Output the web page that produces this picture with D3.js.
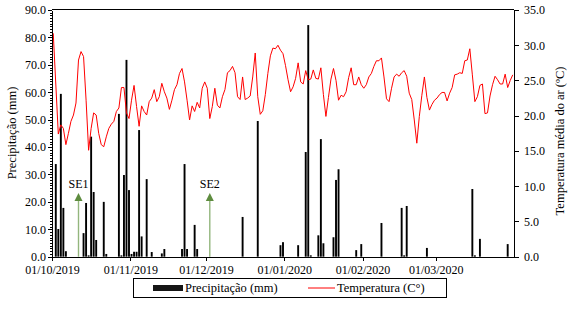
<!DOCTYPE html>
<html><head><meta charset="utf-8">
<script src="https://cdn.jsdelivr.net/npm/d3@7"></script>
<style>
body{margin:0;background:#fff}
svg{display:block}
text{font-family:"Liberation Serif","Times New Roman",serif;fill:#000}
</style>
</head><body>
<svg id="chart" width="569" height="309"></svg>
<script>
// ---- data ----
const startDate = "2019-10-01";
const endDate = "2020-04-01";
const temperature = [
31.7,24.5,17.4,18.7,18.2,15.9,17.5,19.2,20.1,21.8,
27.9,29.1,28.4,22.2,15.1,18.2,20.4,20.1,17.5,15.9,
15.6,17.0,18.2,18.8,19.2,20.6,21.1,24.0,24.0,20.4,
19.6,22.2,24.3,21.3,18.5,21.4,20.6,20.1,22.0,22.5,
23.7,22.0,22.7,24.6,23.4,22.5,20.9,22.2,23.7,24.4,
26.0,26.7,24.8,22.2,19.4,21.4,20.6,21.9,21.1,23.9,
24.8,23.9,19.6,21.3,23.9,21.5,21.1,22.7,23.7,26.1,
26.4,27.0,26.1,22.7,22.3,25.5,22.3,22.5,22.8,25.5,
28.9,22.7,20.2,20.7,23.0,26.0,28.5,29.6,29.5,30.0,
29.3,28.8,27.1,25.1,23.4,24.1,25.3,27.5,24.8,24.5,
26.4,25.1,25.2,26.5,25.3,25.2,26.8,23.0,19.9,22.6,
25.2,26.7,25.0,22.2,22.9,22.7,23.4,25.4,26.8,24.4,
24.4,25.5,24.4,23.9,24.4,25.5,26.0,27.0,27.8,27.8,
28.2,25.5,22.4,22.0,23.9,25.5,25.9,25.6,26.1,26.4,
25.6,23.2,22.3,19.4,16.1,19.9,22.9,25.5,22.6,20.8,
21.6,22.2,22.5,23.0,23.3,23.3,22.1,23.2,24.0,25.8,
25.9,26.1,26.0,27.8,27.9,29.5,25.8,22.0,22.7,24.3,
24.5,20.3,20.4,22.8,24.4,25.6,25.1,24.5,24.5,25.9,
24.0,25.0,25.8
];
const precipDates = [
"2019-10-02","2019-10-03","2019-10-04","2019-10-05","2019-10-06",
"2019-10-13","2019-10-14","2019-10-15","2019-10-16","2019-10-17","2019-10-18",
"2019-10-21","2019-10-22","2019-10-27","2019-10-28","2019-10-29","2019-10-30","2019-10-31",
"2019-11-01","2019-11-02","2019-11-03","2019-11-04","2019-11-05","2019-11-07","2019-11-09",
"2019-11-13","2019-11-14","2019-11-21","2019-11-22","2019-11-23","2019-11-26","2019-11-27",
"2019-12-15","2019-12-21","2019-12-30","2019-12-31",
"2020-01-06","2020-01-09","2020-01-10","2020-01-11","2020-01-14","2020-01-15","2020-01-16",
"2020-01-20","2020-01-21","2020-01-22","2020-01-29","2020-01-31",
"2020-02-08","2020-02-16","2020-02-17","2020-02-18","2020-02-26",
"2020-03-15","2020-03-16","2020-03-18","2020-03-29"
];
const precipValues = [
33.8,10.1,59.4,17.8,2.0,
8.6,19.6,0.5,43.8,23.6,6.1,
20.0,1.0,52.1,0.5,29.8,71.8,24.3,
1.0,1.8,1.8,46.2,7.4,28.3,1.7,
1.2,2.8,2.8,33.8,2.8,11.6,2.8,
14.5,49.5,4.2,5.3,
4.2,38.2,84.5,0.5,7.8,42.9,4.9,
7.1,28.0,31.9,2.4,4.6,
12.3,17.8,0.5,18.5,3.2,
24.7,0.5,6.5,4.6
];
const monthTicks = ["2019-10-01","2019-11-01","2019-12-01","2020-01-01","2020-02-01","2020-03-01"];
const precipTicks = [0,10,20,30,40,50,60,70,80,90];
const tempTicks = [0,5,10,15,20,25,30,35];
const sowingDates = ["2019-10-11","2019-12-02"];
const sowingLabels = ["SE1","SE2"];
const sowingArrowTop = 23.2; // mm (precipitation scale)
const legendLabels = ["Precipitação (mm)","Temperatura (C°)"];

// ---- chart ----
const parse = d3.utcParse("%Y-%m-%d");
const svg = d3.select("#chart");
const L = 52, R = 514, T = 10, B = 256.7;

const x = d3.scaleUtc().domain([parse(startDate), parse(endDate)]).range([L, R]);
const yP = d3.scaleLinear().domain([0, 90]).range([B, T]);
const yT = d3.scaleLinear().domain([0, 35]).range([B, T]);
const mid = d => d3.utcHour.offset(d, 12);
const dayW = x(parse("2019-10-02")) - x(parse("2019-10-01"));
const barW = 1.9;

// top border
svg.append("line").attr("x1", L).attr("x2", R).attr("y1", T - 0.5).attr("y2", T - 0.5)
  .attr("stroke", "#000").attr("stroke-width", 1);

// bars
svg.append("g").selectAll("rect").data(precipDates.map((d, i) => ({d: parse(d), v: precipValues[i]})))
  .join("rect")
  .attr("x", d => x(mid(d.d)) - barW / 2)
  .attr("width", barW)
  .attr("y", d => yP(d.v))
  .attr("height", d => B - yP(d.v))
  .attr("fill", "#000");

// temperature line
const tData = temperature.map((v, i) => ({d: mid(d3.utcDay.offset(parse(startDate), i)), v}));
svg.append("path").datum(tData)
  .attr("fill", "none").attr("stroke", "#ff0000").attr("stroke-width", 1)
  .attr("stroke-linejoin", "round")
  .attr("d", d3.line().x(d => x(d.d)).y(d => yT(d.v)));

// sowing arrows
const arr = svg.append("g");
sowingDates.forEach((s, i) => {
  const cx = x(mid(parse(s)));
  const tip = yP(sowingArrowTop);
  arr.append("line").attr("x1", cx).attr("x2", cx).attr("y1", B).attr("y2", tip + 7)
    .attr("stroke", "#93b67d").attr("stroke-width", 1.4);
  arr.append("path")
    .attr("d", `M${cx},${tip} L${cx - 4},${tip + 8} L${cx + 4},${tip + 8} Z`)
    .attr("fill", "#5e8c3f");
  arr.append("text").attr("x", cx).attr("y", tip - 5.5).attr("text-anchor", "middle")
    .attr("font-size", 12).attr("fill", "#111").text(sowingLabels[i]);
});

// axes
const fmt = d3.format(".1f");
const gL = svg.append("g").attr("transform", `translate(${L},0)`)
  .call(d3.axisLeft(yP).tickValues(precipTicks).tickFormat(fmt).tickSize(4).tickSizeOuter(0).tickPadding(2));
svg.append("g").attr("transform", `translate(${L},0)`)
  .call(d3.axisLeft(yP).tickValues(d3.range(0, 91, 1)).tickFormat("").tickSize(2).tickSizeOuter(0))
  .select(".domain").remove();
const gR = svg.append("g").attr("transform", `translate(${R},0)`)
  .call(d3.axisRight(yT).tickValues(tempTicks).tickFormat(fmt).tickSize(5).tickSizeOuter(0).tickPadding(5));
const gB = svg.append("g").attr("transform", `translate(0,${B})`)
  .call(d3.axisBottom(x).tickValues(monthTicks.map(parse)).tickFormat(d3.utcFormat("%d/%m/%Y")).tickSize(4).tickSizeOuter(0).tickPadding(5));

svg.selectAll(".tick text").attr("font-size", 12).attr("font-family", '"Liberation Serif","Times New Roman",serif').attr("fill", "#000");
gB.selectAll(".tick text").attr("fill", "#222");
svg.selectAll(".domain, .tick line").attr("stroke", "#000").attr("shape-rendering", "crispEdges");

// axis titles
svg.append("text").attr("transform", `translate(12,133) rotate(-90)`).attr("text-anchor", "middle")
  .attr("dy", "0.35em").attr("font-size", 12.5).text("Precipitação (mm)");
svg.append("text").attr("transform", `translate(560,141) rotate(-90)`).attr("text-anchor", "middle")
  .attr("dy", "0.35em").attr("font-size", 12.5).text("Temperatura média do ar (ºC)");

// legend
const lg = svg.append("g");
lg.append("rect").attr("x", 133.5).attr("y", 278.5).attr("width", 313).attr("height", 19)
  .attr("fill", "#fff").attr("stroke", "#000").attr("stroke-width", 1);
lg.append("rect").attr("x", 153).attr("y", 285).attr("width", 30).attr("height", 6).attr("fill", "#151515");
lg.append("text").attr("x", 185).attr("y", 288).attr("dy", "0.35em").attr("font-size", 12.5).text(legendLabels[0]);
lg.append("line").attr("x1", 308).attr("x2", 335).attr("y1", 288).attr("y2", 288).attr("stroke", "#ff0000").attr("stroke-width", 1);
lg.append("text").attr("x", 337).attr("y", 288).attr("dy", "0.35em").attr("font-size", 12.5).text(legendLabels[1]);
</script>
</body></html>
